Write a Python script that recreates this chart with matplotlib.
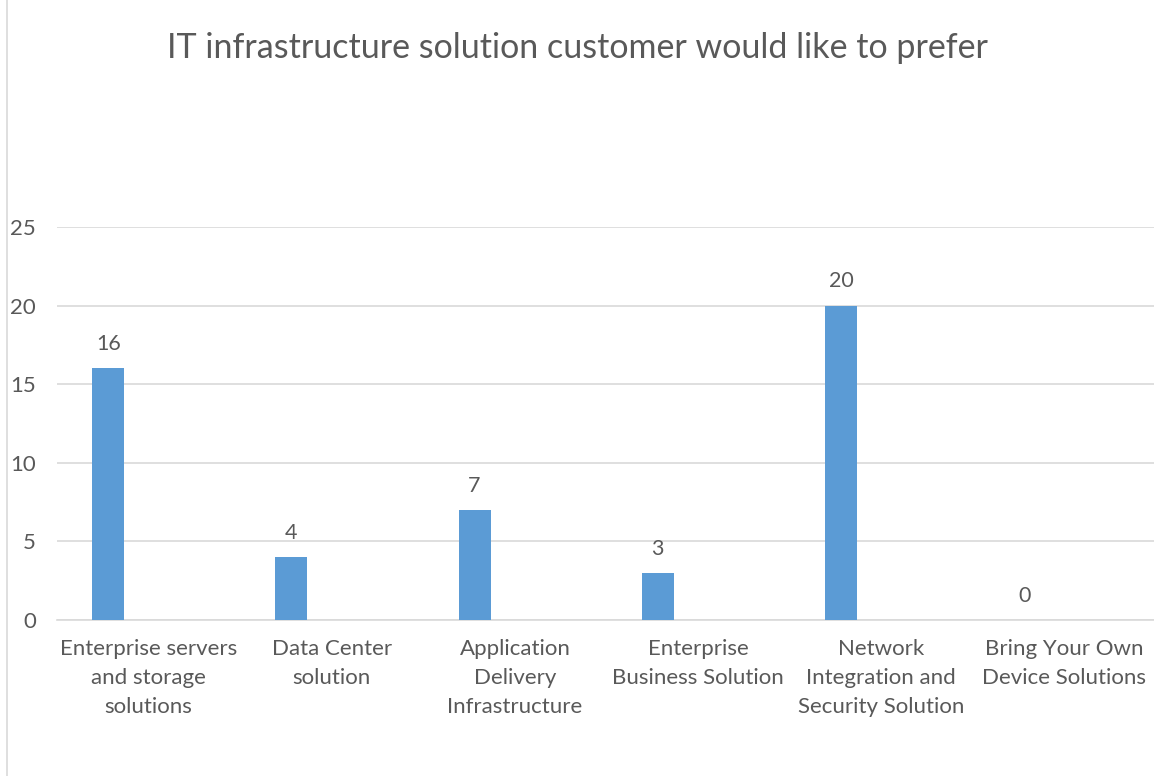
import numpy as np
import matplotlib.pyplot as plt
from matplotlib.lines import Line2D

categories = [
    "Enterprise servers\nand storage\nsolutions",
    "Data Center\nsolution",
    "Application\nDelivery\nInfrastructure",
    "Enterprise\nBusiness Solution",
    "Network\nIntegration and\nSecurity Solution",
    "Bring Your Own\nDevice Solutions",
]
values = [16, 4, 7, 3, 20, 0]
yticks = [0, 5, 10, 15, 20, 25]

title = "IT infrastructure solution customer would like to prefer"

text_color = "#595959"
bar_color = "#5B9BD5"
grid_color = "#D9D9D9"

plt.rcParams["font.family"] = ["Lato", "DejaVu Sans"]

fig = plt.figure(figsize=(11.54, 7.76), dpi=100)
ax = fig.add_axes([57 / 1154, 1 - 620 / 776, 1099 / 1154, 393 / 776])

x = np.arange(len(categories))
offset = -0.22
bars = ax.bar(x + offset, values, width=0.175, color=bar_color, zorder=3)

for xi, v in zip(x, values):
    ax.text(xi + offset, v + 0.9, str(v), ha="center", va="bottom",
            fontsize=15.5, color=text_color)

ax.set_xlim(-0.5, len(categories) - 0.5)
ax.set_ylim(0, 25)
ax.set_yticks(yticks)
ax.set_yticklabels([str(t) for t in yticks], fontsize=16, color=text_color)
ax.set_xticks(x)
ax.set_xticklabels(categories, fontsize=16, color=text_color, linespacing=1.55)
ax.tick_params(axis="both", length=0)
ax.tick_params(axis="y", pad=15)
ax.tick_params(axis="x", pad=14)

ax.grid(axis="y", color=grid_color, linewidth=1.2, zorder=0)
for s in ["top", "right", "left"]:
    ax.spines[s].set_visible(False)
ax.spines["bottom"].set_color(grid_color)
ax.spines["bottom"].set_linewidth(1.2)

fig.text(0.5, 1 - 48 / 776, title, ha="center", va="center",
         fontsize=24.5, color=text_color)

# chart border (left edge visible)
fig.add_artist(Line2D([7 / 1154, 7 / 1154], [0, 1], transform=fig.transFigure,
                      color=grid_color, linewidth=1.2))

fig.savefig("out.png", dpi=100)
